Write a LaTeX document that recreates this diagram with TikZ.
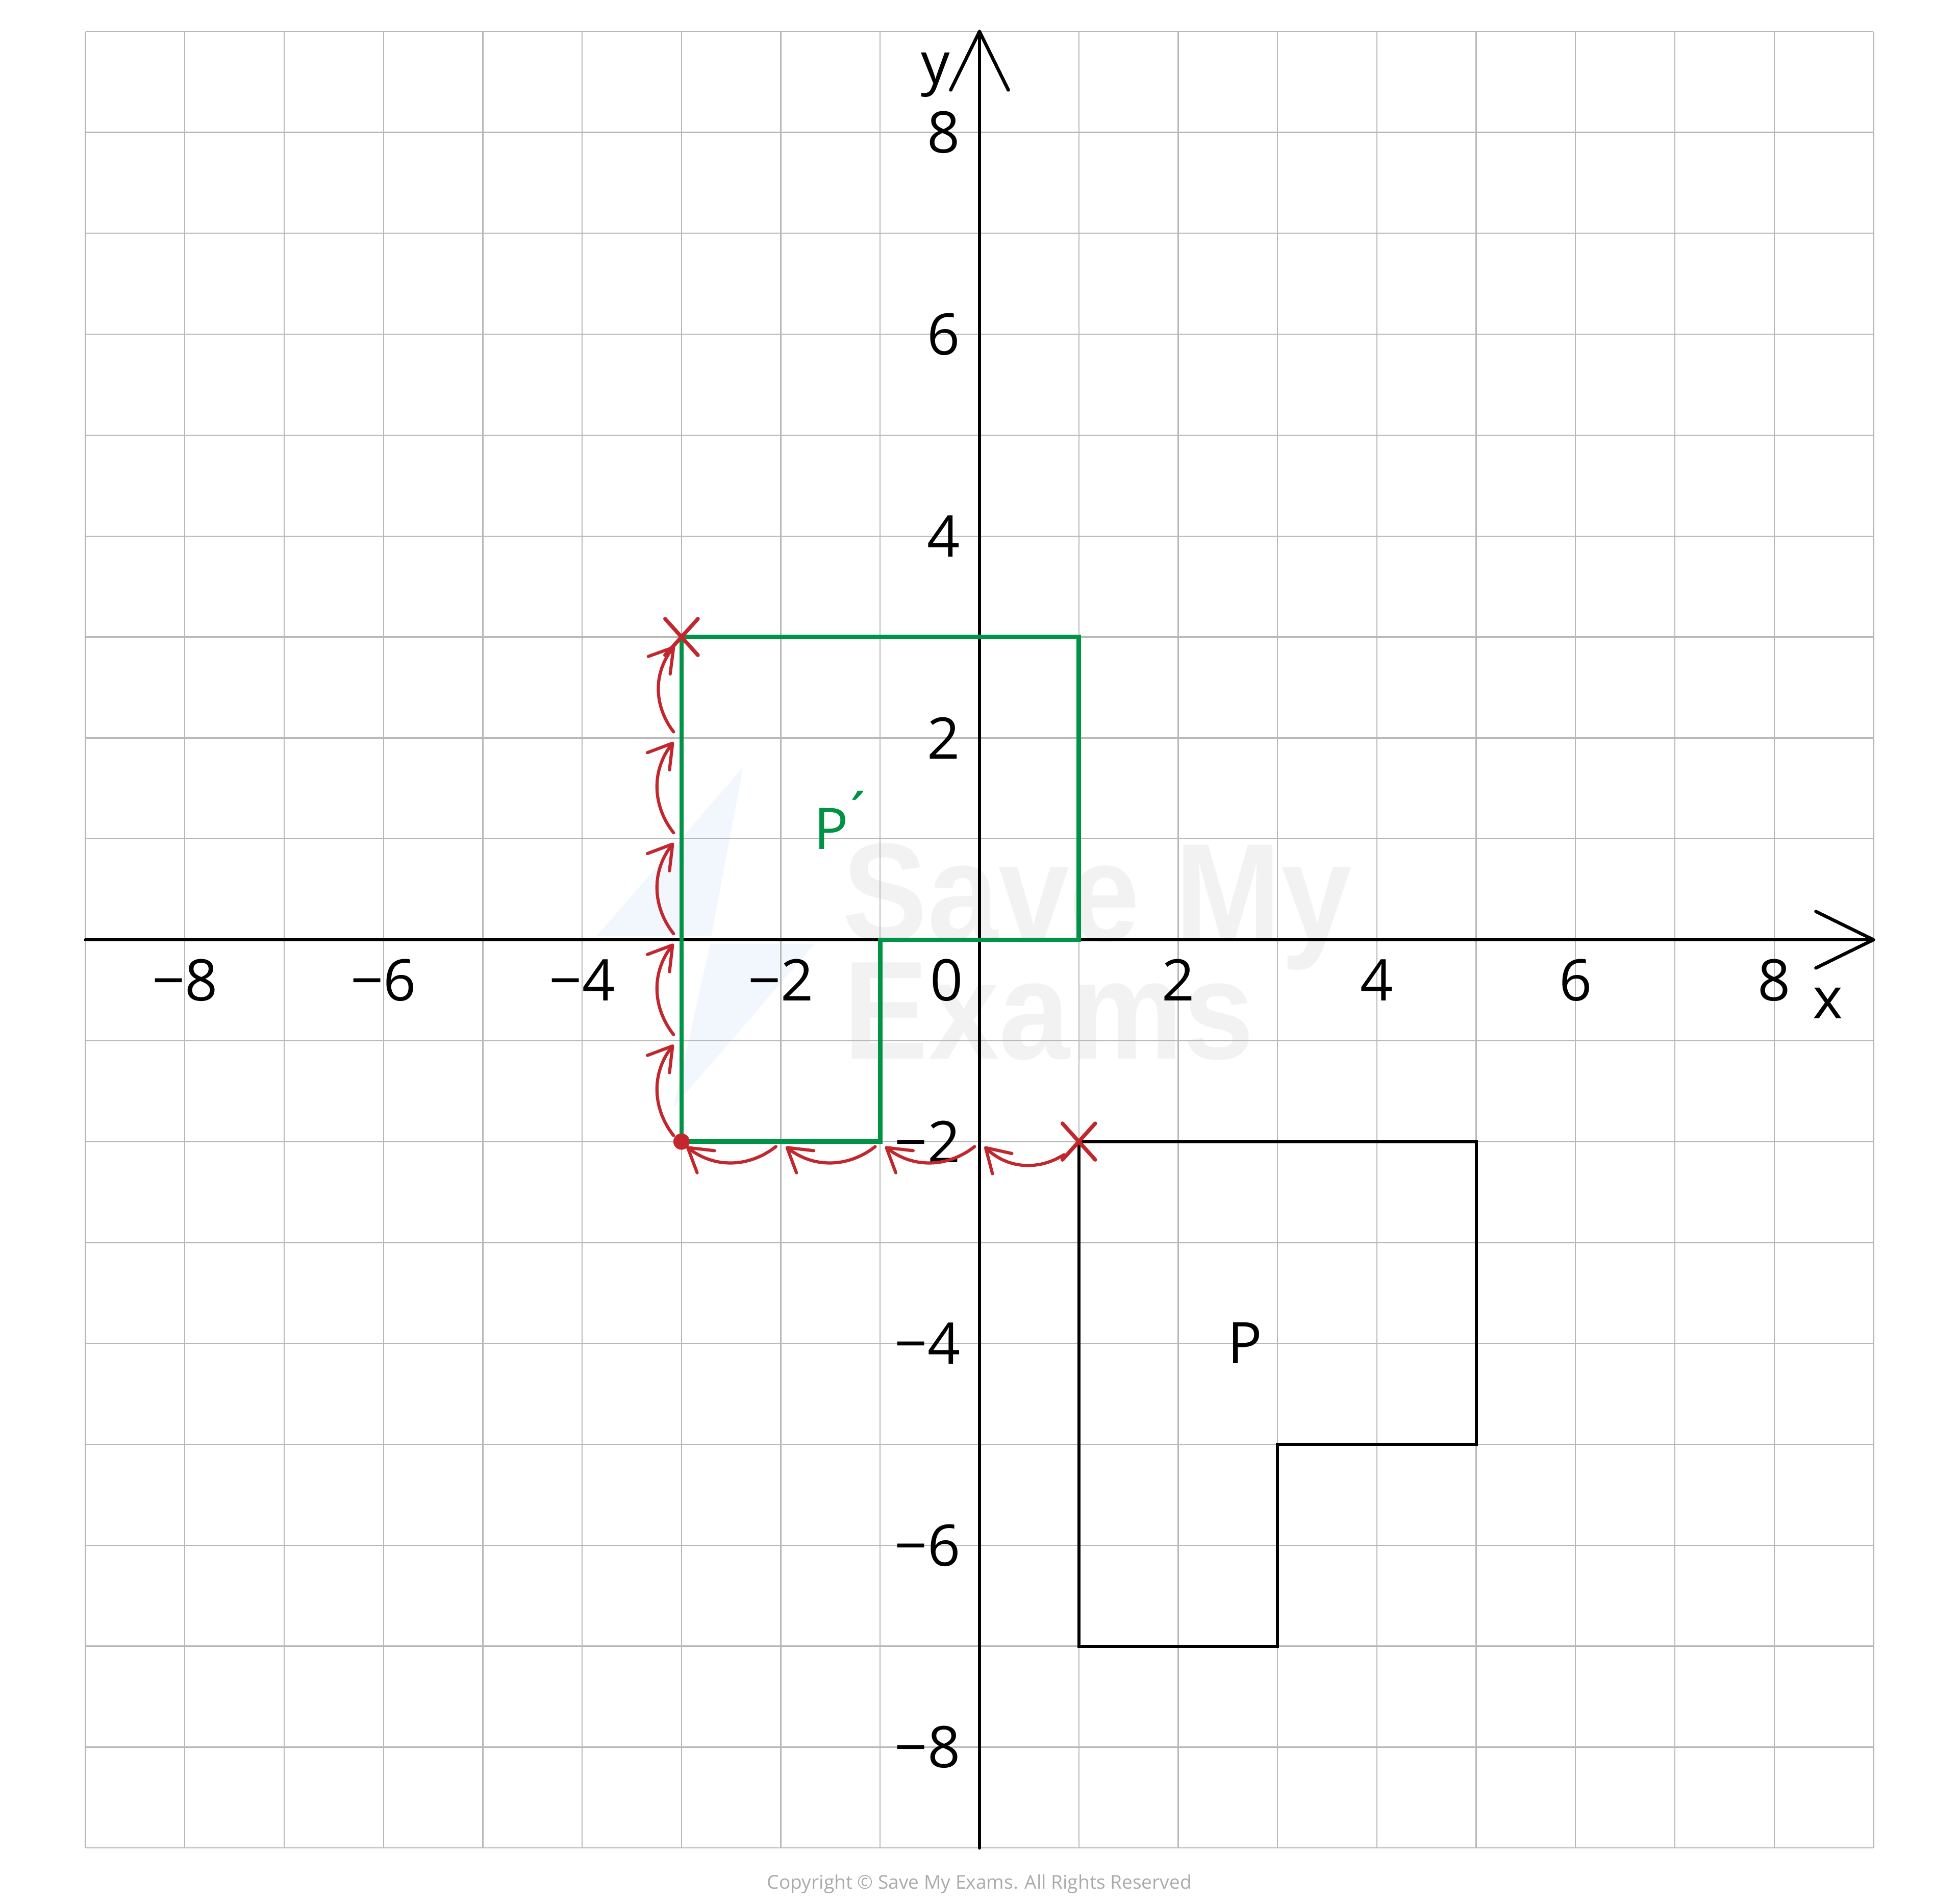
\documentclass[tikz,border=0pt]{standalone}
\usepackage{fontspec}
\usepackage{graphicx}
\setmainfont{Open Sans}
\newfontfamily\wmfont{Liberation Sans}
\usetikzlibrary{arrows.meta}
\definecolor{gridc}{RGB}{184,184,184}
\definecolor{pgreen}{RGB}{0,146,69}
\definecolor{pred}{RGB}{193,39,45}
\definecolor{wmgray}{RGB}{242,242,242}
\definecolor{wmblue}{RGB}{242,246,253}
\definecolor{copyc}{RGB}{170,170,170}
\begin{document}
\begin{tikzpicture}[x=1.947cm,y=1.978cm,
  lab/.style={font=\fontsize{32pt}{38pt}\selectfont, inner sep=0pt},
  ylab/.style={lab, anchor=east},
  gridline/.style={draw=gridc, line width=0.023cm},
  axisline/.style={line width=0.065cm, line cap=round, line join=round},
  shapeP/.style={line width=0.06cm},
  shapeQ/.style={draw=pgreen, line width=0.085cm},
  redarc/.style={draw=pred, line width=0.062cm, line cap=round, -{Straight Barb[length=0.45cm,width=0.55cm,line cap=round,line join=round]}, bend left=38},
  redx/.style={draw=pred, line width=0.075cm, line cap=round},
  wm/.style={font=\wmfont\bfseries\fontsize{78pt}{80pt}\selectfont, text=wmgray, inner sep=0pt, anchor=base west, xscale=0.91}]

\useasboundingbox (-9.861,-9.550) rectangle (9.861,9.312);
\fill[white] (-9.861,-9.550) rectangle (9.861,9.312);

% faint watermark
\fill[wmblue] (-2.38,1.71) -- (-3.85,0.04) -- (-2.70,0.04) -- cycle;
\fill[wmblue] (-2.71,-0.04) -- (-1.66,-0.04) -- (-3.08,-1.66) -- cycle;
\node[wm] (wm1) at (-1.38,-0.015) {Save My};
\node[wm] (wm2) at (-1.37,-1.18) {Exams};

% grid
\foreach \i in {-9,...,9}{
  \draw[gridline] (\i,-9) -- (\i,9);
  \draw[gridline] (-9,\i) -- (9,\i);
}

% axes
\draw[axisline] (-9,0) -- (9,0);
\draw[axisline] (8.42,0.28) -- (9,0) -- (8.42,-0.28);
\draw[axisline] (0,-9) -- (0,9);
\draw[axisline] (-0.29,8.42) -- (0,9) -- (0.29,8.42);

% shapes
\draw[shapeP] (1,-2) -- (5,-2) -- (5,-5) -- (3,-5) -- (3,-7) -- (1,-7) -- cycle;
\draw[shapeQ] (-3,3) -- (1,3) -- (1,0) -- (-1,0) -- (-1,-2) -- (-3,-2) -- cycle;

% axis labels
\node[lab] (xlm8) at (-8,-0.40) {−8};
\node[lab] (xlm6) at (-6,-0.40) {−6};
\node[lab] (xlm4) at (-4,-0.40) {−4};
\node[lab] (xlm2) at (-2,-0.40) {−2};
\node[lab] (xl0) at (-0.33,-0.40) {0};
\node[lab] (xl2) at (2,-0.40) {2};
\node[lab] (xl4) at (4,-0.40) {4};
\node[lab] (xl6) at (6,-0.40) {6};
\node[lab] (xl8) at (8,-0.40) {8};
\node[ylab] (yl8) at (-0.19,8) {8};
\node[ylab] (yl6) at (-0.19,6) {6};
\node[ylab] (yl4) at (-0.19,4) {4};
\node[ylab] (yl2) at (-0.19,2) {2};
\node[ylab] (ylm2) at (-0.19,-2) {−2};
\node[ylab] (ylm4) at (-0.19,-4) {−4};
\node[ylab] (ylm6) at (-0.19,-6) {−6};
\node[ylab] (ylm8) at (-0.19,-8) {−8};
\node[lab] (ylab) at (-0.44,8.57) {y};
\node[lab] (xlab) at (8.54,-0.63) {x};

% shape labels
\node[lab, anchor=base, text=pgreen] (pq) at (-1.36,0.895) {P\kern-0.12em\raisebox{0.25em}{´}};
\node[lab, anchor=base] (pp) at (2.67,-4.20) {P};

% red translation arrows
\draw[redarc] (0.85,-2.13) to (0.05,-2.05);
\draw[redarc] (-0.05,-2.05) to (-0.95,-2.05);
\draw[redarc] (-1.05,-2.05) to (-1.95,-2.05);
\draw[redarc] (-2.05,-2.05) to (-2.95,-2.05);
\foreach \yy in {-2,-1,0,1}{
  \draw[redarc] (-3.08,\yy+0.06) to (-3.08,\yy+0.96);
}
\draw[redarc] (-3.08,2.06) to (-3.07,2.91);

\draw[redx] (0.835,-2.18) -- (1.165,-1.82);
\draw[redx] (0.835,-1.82) -- (1.165,-2.18);
\draw[redx] (-3.165,2.82) -- (-2.835,3.18);
\draw[redx] (-3.165,3.18) -- (-2.835,2.82);
\fill[pred] (-3,-2) circle[radius=0.16cm];

% copyright
\node[text=copyc, inner sep=0pt] (copy) at (0,-9.358) {\resizebox{8.32cm}{!}{Copyright © Save My Exams. All Rights Reserved}};
\end{tikzpicture}
\end{document}
